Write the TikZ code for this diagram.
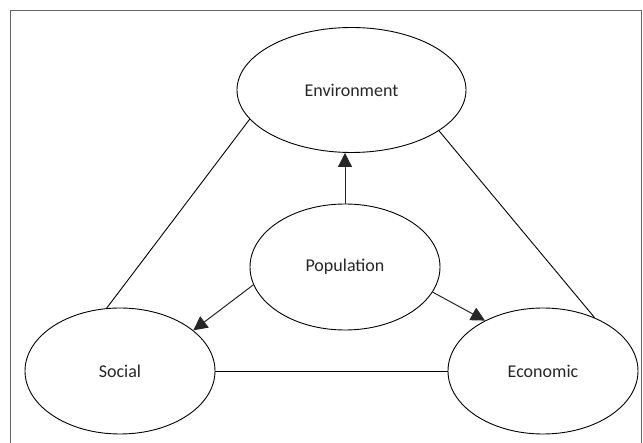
\documentclass[tikz,border=0pt]{standalone}
\usepackage{fontspec}
\setmainfont{Carlito}
\usetikzlibrary{shapes.geometric,arrows.meta}
\tikzset{
  oval/.style={draw=black,line width=0.9pt,ellipse,inner sep=0pt,minimum width=190pt,minimum height=126pt,font=\fontsize{18pt}{20pt}\selectfont,text=black!85},
  link/.style={draw=black,line width=0.9pt},
  arr/.style={draw=black!85,line width=1pt,-{Triangle[width=14pt,length=14pt]}},
  frame/.style={draw=black!60,line width=1pt}
}
\begin{document}
\begin{tikzpicture}[x=1pt,y=-1pt]
\useasboundingbox (0,0) rectangle (643,443);
\draw[frame] (10,443) -- (10,11) -- (641,11) -- (641,443);
\node[oval,minimum width=229pt,minimum height=125pt] (env) at (351.5,90) {Environment};
\node[oval] (pop) at (345,267) {Population};
\node[oval] (soc) at (120,371) {Social};
\node[oval] (eco) at (543,371) {\raisebox{-4pt}{Economic}};
\draw[link] (env.196.4) -- (soc.102.5);
\draw[link] (env.335.4) -- (eco.46.6);
\draw[link] (soc.east) -- (eco.west);
\draw[arr] (pop.north) -- (pop.north |- env.south);
\draw[arr] (pop.191.7) -- (soc.29.9);
\draw[arr] (pop.344.9) -- (eco.139.2);
\end{tikzpicture}
\end{document}
